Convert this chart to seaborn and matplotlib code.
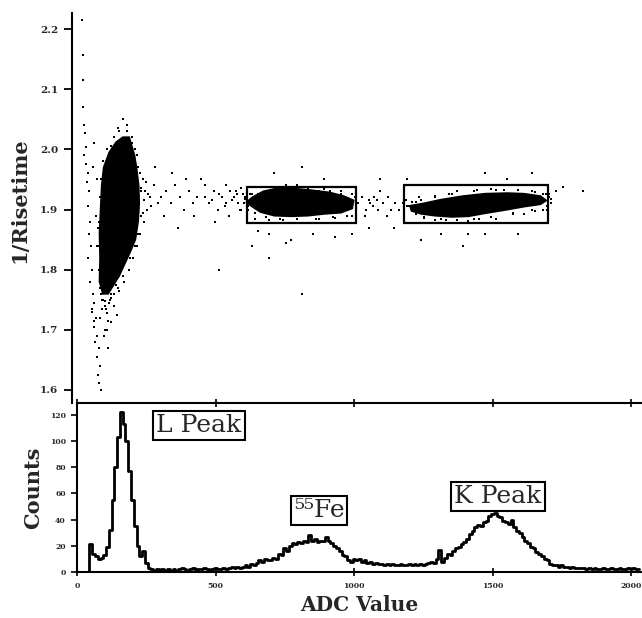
import numpy as np
import pandas as pd
import seaborn as sns
import matplotlib
matplotlib.use("Agg")
import matplotlib.pyplot as plt
from matplotlib.patches import Rectangle

# ---------------- data ----------------
# histogram (counts per 10-ADC channel bin)
adc_bins = list(range(0, 2040, 10))
counts = [0, 0, 0, 0, 0,
          21, 14, 12, 10, 11, 13, 19, 32, 55, 80, 103, 122, 113, 100, 77,
          55, 35, 20, 12, 16, 7, 3, 2, 1, 2,
          1, 2, 1, 2, 1, 2, 1, 2, 3, 2,
          1, 2, 3, 1, 2, 2, 3, 2, 1, 2,
          3, 2, 2, 3, 2, 3, 4, 3, 4, 3,
          4, 5, 4, 6, 5, 7, 9, 8, 10, 9,
          9, 11, 10, 14, 13, 18, 16, 20, 22, 21,
          23, 22, 24, 23, 28, 24, 25, 23, 24, 24,
          27, 24, 22, 20, 18, 16, 13, 12, 9, 8,
          10, 9, 10, 8, 9, 7, 8, 6, 7, 6,
          6, 5, 6, 5, 6, 5, 5, 6, 5, 5,
          6, 5, 6, 5, 6, 5, 6, 7, 8, 7,
          10, 17, 8, 11, 14, 13, 16, 18, 19, 21,
          23, 25, 29, 31, 34, 36, 35, 38, 39, 43,
          44, 45, 43, 42, 39, 38, 37, 40, 34, 31,
          30, 27, 24, 22, 19, 18, 15, 14, 12, 10,
          9, 6, 5, 5, 4, 5, 4, 4, 3, 4,
          3, 3, 3, 3, 2, 3, 2, 3, 2, 2,
          3, 2, 2, 3, 2, 2, 3, 2, 2, 3,
          2, 3, 2, 2]

# dense scatter cores (outline of the solid black regions)
l_core_x = [184, 206, 225, 232, 240, 242, 238, 228, 210, 190, 170, 150, 130, 112, 100, 102, 100, 104, 108, 115, 135, 160]
l_core_y = [2.020, 2.020, 1.990, 1.970, 1.940, 1.910, 1.880, 1.850, 1.830, 1.810, 1.790, 1.775, 1.760, 1.760, 1.780, 1.820, 1.860, 1.900, 1.940, 1.970, 1.995, 2.012]
fe_core_x = [651, 691, 731, 791, 861, 931, 981, 1016, 1011, 971, 911, 851, 791, 731, 681, 651, 631]
fe_core_y = [1.920, 1.930, 1.934, 1.935, 1.932, 1.928, 1.922, 1.915, 1.902, 1.895, 1.893, 1.890, 1.889, 1.890, 1.896, 1.905, 1.912]
k_core_x = [1221, 1271, 1331, 1411, 1491, 1571, 1631, 1691, 1711, 1691, 1631, 1571, 1491, 1431, 1371, 1311, 1261, 1226]
k_core_y = [1.906, 1.910, 1.916, 1.922, 1.926, 1.927, 1.926, 1.922, 1.915, 1.909, 1.905, 1.900, 1.894, 1.889, 1.888, 1.890, 1.893, 1.898]

# sparse scatter points
pts_x = [36, 39, 41, 38, 44, 46, 49, 43, 51, 56, 53, 61, 59, 66, 63, 69, 56, 71, 66, 76,
         81, 73, 86, 79, 91, 83, 96, 89, 101, 93, 99, 106, 81, 71, 111, 121, 131, 116, 126, 103,
         255, 265, 280, 270, 295, 310, 260, 240, 240, 228, 215, 200, 185, 165, 140, 125, 108, 95, 92, 98,
         126, 136, 151, 161, 141, 131, 171, 186, 211, 226, 85, 90, 75, 80, 260, 275, 285, 250, 258, 268,
         321, 341, 356, 371, 391, 406, 421, 436, 451, 466, 481, 496, 511, 526, 541, 556, 571, 586, 601, 611,
         331, 441, 516, 566, 481, 361, 556, 301, 411, 591, 506, 531, 551, 576, 596, 621, 616, 606, 623, 611,
         381, 651, 711, 791, 871, 731, 911, 831, 1011, 1071, 1161, 1261, 1331, 1411, 1431, 1491, 1571, 1661, 1771, 1846,
         1111, 1211, 1491, 1611, 531, 831, 711, 771, 951, 671,
         1031, 1046, 1061, 1076, 1091, 1106, 1121, 1136, 1151, 1166, 1181, 1196, 1056, 1111, 1141, 1071, 1086, 1021, 1026, 1101,
         1721, 1731, 1746, 1716, 1723, 1206, 1211, 1236, 1241, 1251,
         641, 671, 701, 741, 771, 811, 851, 891, 931, 971, 1001, 661, 711, 761, 891, 951, 1011, 1001, 636, 641,
         1261, 1311, 1361, 1391, 1461, 1511, 1561, 1611, 1661, 1701, 1311, 1431, 1531, 1631, 1701, 1271, 1351, 1471, 1591, 1671,
         120, 135, 150, 110, 128, 142, 118, 160, 170, 100,
         98, 96, 97, 100, 104, 112, 125, 150, 170, 200, 215, 235, 245, 250, 250, 246, 236, 222, 205, 185, 165, 140, 108, 118, 100,
         626, 636, 651, 711, 771, 841, 911, 971, 1011, 1031, 1026, 991, 941, 881, 811, 751, 701, 661,
         1216, 1226, 1261, 1311, 1371, 1451, 1531, 1611, 1671, 1711, 1731, 1716, 1661, 1591, 1511, 1451, 1391, 1331, 1271, 1241]
pts_y = [2.215, 2.157, 2.115, 2.071, 2.040, 2.027, 2.004, 1.990, 1.975, 1.960, 1.945, 1.930, 1.905, 1.880, 1.860, 1.840, 1.820, 1.800, 1.780, 1.760,
         1.745, 1.730, 1.720, 1.705, 1.690, 1.680, 1.670, 1.655, 1.640, 1.625, 1.612, 1.600, 1.715, 1.735, 1.750, 1.735, 1.715, 1.690, 1.700, 1.760,
         1.950, 1.930, 1.920, 1.900, 1.940, 1.910, 1.880, 1.860, 1.970, 2.000, 2.020, 2.040, 2.050, 2.035, 2.005, 1.975, 1.935, 1.870, 1.840, 1.800,
         1.770, 1.750, 1.740, 1.725, 1.712, 1.670, 1.765, 1.780, 1.820, 1.840, 1.890, 1.950, 1.970, 2.010, 1.915, 1.925, 1.905, 1.935, 1.895, 1.945,
         1.920, 1.930, 1.910, 1.940, 1.920, 1.900, 1.930, 1.910, 1.920, 1.950, 1.920, 1.910, 1.930, 1.900, 1.920, 1.910, 1.930, 1.920, 1.910, 1.900,
         1.890, 1.890, 1.880, 1.890, 1.940, 1.960, 1.940, 1.970, 1.950, 1.930, 1.915, 1.925, 1.905, 1.915, 1.925, 1.910, 1.925, 1.900, 1.920, 1.935,
         1.870, 1.840, 1.860, 1.850, 1.860, 1.960, 1.950, 1.970, 1.860, 1.870, 1.870, 1.850, 1.860, 1.840, 1.860, 1.860, 1.950, 1.960, 1.937, 1.931,
         1.950, 1.950, 1.960, 1.860, 1.800, 1.760, 1.820, 1.845, 1.855, 1.865,
         1.910, 1.920, 1.900, 1.910, 1.920, 1.900, 1.910, 1.890, 1.900, 1.910, 1.900, 1.910, 1.890, 1.930, 1.920, 1.915, 1.905, 1.920, 1.900, 1.915,
         1.920, 1.910, 1.930, 1.900, 1.925, 1.915, 1.905, 1.900, 1.912, 1.920,
         1.926, 1.925, 1.938, 1.930, 1.938, 1.940, 1.936, 1.931, 1.930, 1.925, 1.918, 1.884, 1.883, 1.882, 1.884, 1.886, 1.890, 1.908, 1.900, 1.915,
         1.915, 1.922, 1.925, 1.930, 1.932, 1.934, 1.933, 1.932, 1.930, 1.925, 1.882, 1.881, 1.885, 1.893, 1.900, 1.886, 1.882, 1.884, 1.892, 1.897,
         1.748, 1.745, 1.760, 1.735, 1.728, 1.752, 1.700, 1.775, 1.790, 1.720,
         1.800, 1.840, 1.880, 1.920, 1.950, 1.980, 2.000, 2.020, 2.030, 2.030, 2.010, 1.990, 1.960, 1.930, 1.890, 1.860, 1.840, 1.820, 1.800, 1.790, 1.770, 1.760, 1.750, 1.740, 1.770,
         1.918, 1.905, 1.925, 1.938, 1.940, 1.938, 1.934, 1.930, 1.925, 1.910, 1.898, 1.890, 1.888, 1.885, 1.884, 1.885, 1.888, 1.895,
         1.905, 1.912, 1.915, 1.920, 1.925, 1.930, 1.932, 1.932, 1.929, 1.925, 1.918, 1.905, 1.900, 1.895, 1.888, 1.884, 1.883, 1.884, 1.887, 1.892]

# gate boxes: (x0, x1, y0, y1)
box_x0 = [631, 1199]
box_x1 = [1026, 1719]
box_y0 = [1.877, 1.877]
box_y1 = [1.938, 1.941]

# peak labels
peak_labels = ["L Peak", "⁵⁵Fe", "K Peak"]
peak_lab_x = [440, 874, 1520]
peak_lab_y = [112, 47, 58]

top_yticks = [1.6, 1.7, 1.8, 1.9, 2.0, 2.1, 2.2]
bot_yticks = [0, 20, 40, 60, 80, 100, 120]
bot_xticks = [0, 500, 1000, 1500, 2000]

# ---------------- plot ----------------
sns.set_theme(style="white")
serif = ["DejaVu Serif", "Liberation Serif"]
plt.rcParams["font.family"] = serif

W, H = 642, 618
px_per_unit = 0.277
fig = plt.figure(figsize=(W / 100, H / 100), dpi=100)
ax_top = fig.add_axes([72 / W, (H - 403) / H, (W - 72) / W, (403 - 13) / H])
ax_bot = fig.add_axes([77 / W, (H - 572) / H, (W - 77) / W, (572 - 403) / H])

# --- scatter panel ---
for cx, cy in [(l_core_x, l_core_y), (fe_core_x, fe_core_y), (k_core_x, k_core_y)]:
    ax_top.fill(cx, cy, color="black", lw=1.5, ec="black", zorder=2)
pts = pd.DataFrame({"adc": pts_x, "rt": pts_y})
sns.scatterplot(data=pts, x="adc", y="rt", ax=ax_top, color="black", s=3,
                linewidth=0, marker="s", zorder=3, legend=False)
for x0, x1, y0, y1 in zip(box_x0, box_x1, box_y0, box_y1):
    ax_top.add_patch(Rectangle((x0, y0), x1 - x0, y1 - y0, fill=False,
                               ec="black", lw=1.6, zorder=4))
ax_top.set_xlim(0, (W - 72) / px_per_unit)
ax_top.set_ylim(1.578, 2.227)
ax_top.set_yticks(top_yticks)
ax_top.set_yticklabels([f"{v:.1f}" for v in top_yticks], fontsize=7.5, fontweight="bold")
ax_top.set_xticks([])
for s in ["top", "right", "bottom"]:
    ax_top.spines[s].set_visible(False)
ax_top.spines["left"].set_color("black")
ax_top.spines["left"].set_linewidth(1.5)
ax_top.tick_params(axis="y", direction="out", length=6, width=1.3, color="black", pad=4, left=True)
ax_top.set_xlabel("")
ax_top.set_ylabel("1/Risetime", fontsize=15, fontweight="bold")

# --- histogram panel ---
hist = pd.DataFrame({"adc": adc_bins, "counts": counts})
sns.lineplot(data=hist, x="adc", y="counts", ax=ax_bot, color="black", lw=2.0,
             drawstyle="steps-mid", legend=False)
ax_bot.set_xlim(0, (W - 77) / px_per_unit)
ax_bot.set_ylim(0, 129)
ax_bot.set_yticks(bot_yticks)
ax_bot.set_yticklabels([str(v) for v in bot_yticks], fontsize=5.5, fontweight="bold")
ax_bot.set_xticks(bot_xticks)
ax_bot.set_xticklabels([str(v) for v in bot_xticks], fontsize=5.5, fontweight="bold")
ax_bot.spines["right"].set_visible(False)
for s in ["top", "left", "bottom"]:
    ax_bot.spines[s].set_color("black")
    ax_bot.spines[s].set_linewidth(1.5)
ax_bot.tick_params(axis="both", direction="out", length=4, width=1.2, color="black", pad=4,
                   left=True, bottom=True)
ax_bot.tick_params(axis="x", top=True, direction="inout", length=6)
ax_bot.set_xlabel("ADC Value", fontsize=14.5, fontweight="bold", labelpad=4)
ax_bot.set_ylabel("Counts", fontsize=15, fontweight="bold")

for lab, lx, ly in zip(peak_labels, peak_lab_x, peak_lab_y):
    ax_bot.text(lx, ly, lab, ha="center", va="center", fontsize=18, family=serif,
                bbox=dict(boxstyle="square,pad=0.12", fc="white", ec="black", lw=1.5), zorder=5)

ax_top.yaxis.set_label_coords(-0.075, 0.52)
ax_bot.yaxis.set_label_coords(-0.060, 0.5)

fig.savefig("out.png", dpi=100, facecolor="white")
